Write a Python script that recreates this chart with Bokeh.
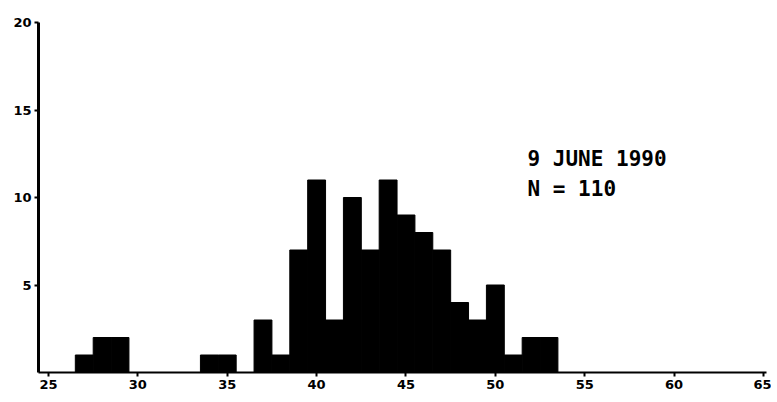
from bokeh.plotting import figure
from bokeh.models import Range1d, FixedTicker, Label
from bokeh.embed import file_html
from bokeh.resources import INLINE

# Data (bin centre -> count)
bins = [27, 28, 29, 34, 35, 37, 38, 39, 40, 41, 42, 43, 44, 45, 46, 47, 48, 49, 50, 51, 52, 53]
counts = [1, 2, 2, 1, 1, 3, 1, 7, 11, 3, 10, 7, 11, 9, 8, 7, 4, 3, 5, 1, 2, 2]
x_ticks = [25, 30, 35, 40, 45, 50, 55, 60, 65]
y_ticks = [5, 10, 15, 20]
title_lines = ["9 JUNE 1990", "N = 110"]

p = figure(width=771, height=396, output_backend="svg", toolbar_location=None,
           x_range=Range1d(24.44, 65.17), y_range=Range1d(0, 20),
           min_border_left=38, min_border_right=5, min_border_top=22, min_border_bottom=24)
p.outline_line_color = None
p.xgrid.visible = False
p.ygrid.visible = False
p.background_fill_color = "white"
p.border_fill_color = "white"

p.vbar(x=bins, top=counts, bottom=0, width=1.0, fill_color="black", line_color="black", line_width=1)

for ax, ticks in ((p.xaxis[0], x_ticks), (p.yaxis[0], y_ticks)):
    ax.ticker = FixedTicker(ticks=ticks)
    ax.minor_tick_line_color = None
    ax.axis_line_color = "black"
    ax.major_tick_line_color = "black"
    ax.major_tick_line_width = 2
    ax.major_tick_in = 0
    ax.major_tick_out = 4
    ax.major_label_text_font = "DejaVu Sans"
    ax.major_label_text_font_style = "bold"
    ax.major_label_text_font_size = "13px"
    ax.major_label_text_color = "black"
p.xaxis.axis_line_width = 2
p.yaxis.axis_line_width = 3
p.xaxis.major_label_standoff = 3
p.yaxis.major_label_standoff = 3

p.add_layout(Label(x=51.8, y=12.2, text=title_lines[0], text_font="DejaVu Sans Mono",
                   text_font_style="bold", text_font_size="21px", text_color="black",
                   text_baseline="alphabetic"))
p.add_layout(Label(x=51.8, y=10.5, text=title_lines[1], text_font="DejaVu Sans Mono",
                   text_font_style="bold", text_font_size="21px", text_color="black",
                   text_baseline="alphabetic"))

open("out.html", "w").write(file_html(p, INLINE))
